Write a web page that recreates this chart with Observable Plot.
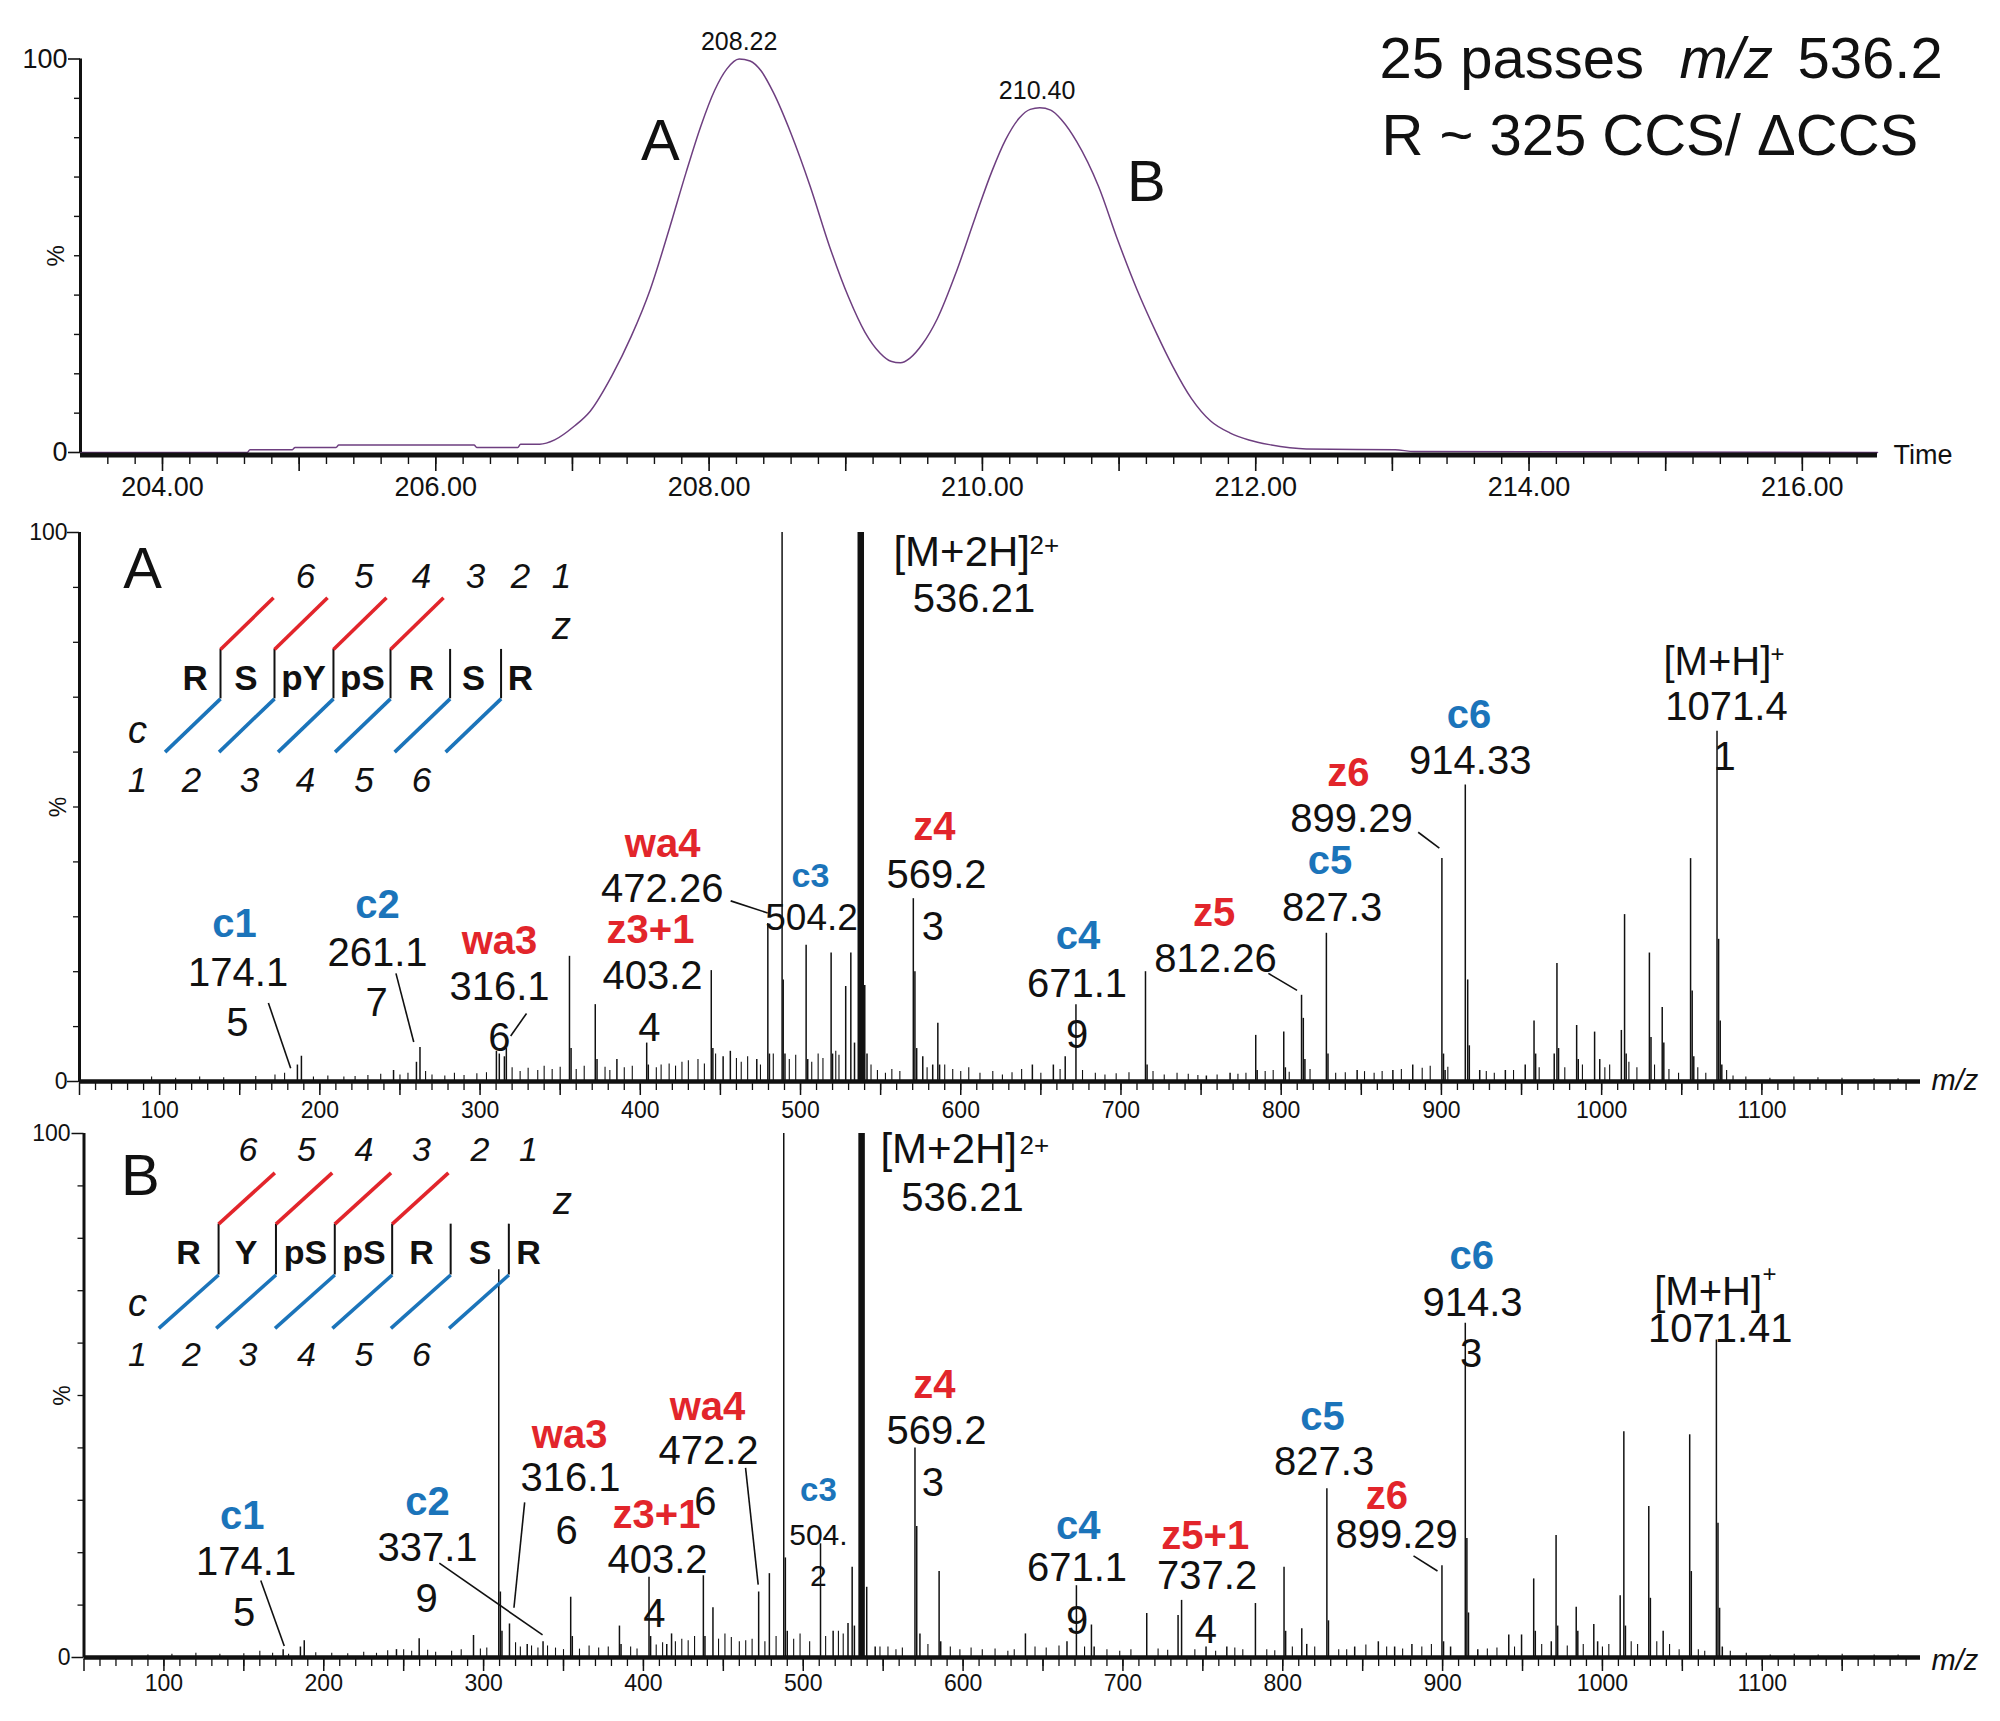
<!DOCTYPE html>
<html><head><meta charset="utf-8">
<script src="https://cdn.jsdelivr.net/npm/d3@7"></script>
<script src="https://cdn.jsdelivr.net/npm/@observablehq/plot@0.6"></script>
<style>
html,body{margin:0;padding:0;background:#fff;}
#wrap{position:relative;width:2000px;height:1721px;overflow:hidden;background:#fff;}
#wrap svg{position:absolute;left:0;overflow:visible;}
</style></head>
<body><div id="wrap"></div>
<script>
const SANS = "'Liberation Sans', Arial, Helvetica, sans-serif";
const BLUE = "#1b74ba", RED = "#e2252b", PURPLE = "#6e3f80", INK = "#111";

// ---------- mobilogram (drift time, % intensity) ----------
const driftTime = [203.4, 204.62, 204.64, 204.95, 204.97, 205.27, 205.29, 206.28, 206.30, 206.60, 206.62, 206.76, 206.87, 207.01, 207.13, 207.29, 207.43, 207.57, 207.71, 207.83, 207.94, 208.04, 208.13, 208.22, 208.30, 208.38, 208.47, 208.60, 208.74, 208.88, 209.02, 209.14, 209.25, 209.33, 209.40, 209.47, 209.56, 209.67, 209.81, 209.95, 210.07, 210.17, 210.27, 210.35, 210.42, 210.50, 210.58, 210.69, 210.85, 210.99, 211.13, 211.27, 211.39, 211.53, 211.67, 211.81, 211.95, 212.10, 212.25, 212.37, 213.02, 213.16, 216.55];
const driftPct = [0, 0, 0.7, 0.7, 1.3, 1.3, 1.9, 1.9, 1.3, 1.3, 2.1, 2.1, 3.2, 6.6, 10.5, 19.6, 29.5, 41.5, 57, 71, 83, 92, 97.5, 100, 99.5, 97, 91.5, 81, 67.6, 52.5, 39.5, 30.6, 25.3, 23.2, 22.8, 24, 27.5, 34, 46, 60, 71.5, 79.5, 85, 87.2, 87.6, 87, 84.5, 79, 67.6, 54, 41.5, 30.6, 22.1, 13.7, 8, 5, 3.2, 2, 1.2, 0.9, 0.7, 0.25, 0];
const driftApex = [[208.22, 100, "208.22"], [210.40, 87.6, "210.40"]];
const driftTicks = d3.range(204, 217, 2);

// ---------- spectrum A peaks [m/z, %] ----------
const peaksA = [[186,3],[188.5,4.6],[246,2],[260.3,3.5],[262.5,6.2],[310.2,5.5],[312,5],[315.2,4.5],[316.4,6],[355.8,22.8],[356.8,6],[371.9,14],[373,4],[385.4,4],[404,7],[405,3],[444.3,20.2],[445.3,6],[451.7,4.5],[456.2,5.5],[472.7,4],[479.6,28.8],[480.6,5],[488.5,100],[489.2,18.5],[490.3,5],[503.5,24.8],[504.5,4],[519.1,23.4],[520,5],[528.2,17.3],[531.4,23.4],[533.7,7],[537.6,100],[540.1,17.5],[541.5,5],[570.4,33.3],[571.4,20],[572.5,6],[576.3,4.5],[582.5,3],[585.7,10.6],[586.8,3],[644.7,3],[657.8,3],[665.2,4.5],[671.9,14],[715.3,20],[716.3,3],[753.3,1],[768.1,1.5],[784.1,8.4],[785,2],[801.6,9],[802.6,2.5],[812.7,15.7],[813.8,11.5],[814.8,4],[828.2,27],[829.2,5],[847.4,2],[869.7,2],[882.1,3],[900.3,40.6],[901.3,5],[902.3,2],[914.9,54],[916.4,18.5],[917.4,6.5],[923.9,2],[939.9,2],[952.3,3],[957.8,11],[958.8,5],[970.4,5],[972.1,21.5],[973.1,6],[984.4,10.2],[985.4,4],[995.6,9],[998.8,4],[1012.3,9.3],[1014.3,30.4],[1015.3,5],[1029.8,23.4],[1030.8,8],[1037.8,13.5],[1038.8,7],[1055.5,40.6],[1056.5,16.5],[1057.5,4.5],[1072,63.8],[1073,25.9],[1074,11],[1075,3]];
const noiseA = [[95,0.8],[110,0.6],[125,0.8],[140,0.7],[160,0.9],[172,1.2],[178,1.5],[196,0.8],[205,1],[215,0.8],[222,0.9],[230,1.1],[238,1.3],[250,1.2],[255,1.5],[266,1.8],[270,1.2],[278,1],[284,1.5],[290,1.1],[298,1.4],[304,1.6],[320,2.5],[325,1.8],[330,2.4],[336,2],[340,2.8],[345,2.2],[350,2.6],[360,2.2],[365,2.8],[378,2.6],[381,2],[390,2.5],[395,2.8],[410,2.5],[413,3],[418,3.2],[422,2.8],[426,3.5],[430,3.8],[436,4],[440,3.2],[447,5],[460,4.2],[463,3.5],[467,4.5],[475,3],[483,5],[493,4],[497,4.8],[507,3.5],[511,5],[514,4.2],[522,5.5],[524,4.8],[544,3],[548,2],[553,1.5],[557,2.2],[562,1.8],[579,2.5],[590,3],[595,2.2],[600,1.8],[605,2.5],[612,1.5],[620,1.8],[626,1.2],[632,1.6],[638,2.2],[650,1.5],[662,2.2],[676,2],[684,1.5],[690,1.2],[697,1.4],[705,1.6],[720,1.8],[727,1.2],[735,1.5],[742,1.3],[748,1.1],[760,1.2],[773,1.3],[778,1.5],[790,1.8],[795,2],[805,1.7],[818,2.2],[834,1.5],[840,1.6],[852,1.8],[858,1.5],[863,1.8],[875,2.2],[888,2.4],[893,2.8],[904,2.6],[928,1.8],[933,1.5],[945,2],[961,2.5],[977,2.5],[988,3],[1002,2.5],[1005,3],[1017,3.5],[1022,2.5],[1033,3],[1042,2.2],[1048,1.5],[1060,2.5],[1065,1.5],[1078,2],[1082,1],[1090,0.8],[1105,0.6],[1120,0.8],[1135,0.7],[1150,0.6],[1170,0.5],[1185,0.5]];

// ---------- spectrum B peaks [m/z, %] ----------
const peaksB = [[174.6,1.5],[185.4,2],[187.8,3.2],[245.5,1.5],[259.7,3.6],[293.7,4.2],[309.5,74],[310.5,12.5],[311.5,5],[316.2,6.4],[327.3,2.5],[337.2,3],[354.5,11.5],[355.5,4],[385,6],[386,2.5],[403.5,15.3],[404.5,4],[414.6,2.5],[417.6,4.5],[437.5,15.6],[438.5,4],[443.5,9.5],[472.1,12.5],[478.8,16],[487.8,100],[488.8,19],[490,5],[510.8,21.7],[518.7,5],[528,6.5],[530.6,17.2],[532,6],[536.5,100],[539.7,13.4],[545,2],[569.9,40],[571,25],[573,4.5],[585,16.4],[586,3],[639,4.5],[665,3],[670.9,13.7],[680.3,6.2],[682,2],[714.9,8.4],[734.5,8],[736.7,10.9],[752,2],[765,2],[782.9,10.3],[800.8,17.2],[801.8,5],[811.9,5.5],[815,2.5],[827.6,32.2],[828.6,7],[845,2],[859.8,3],[870,2],[880.8,2.5],[899.6,17.5],[900.6,3],[905,2],[914.2,63.8],[915.2,22.7],[916.2,8.5],[922,1.5],[941.4,4.3],[949.4,4.3],[957,15],[958,5],[968,3],[971,23.3],[972,6],[983.6,9.6],[984.6,5],[994.6,6.3],[997,3],[1011.1,11.8],[1013.4,43.1],[1014.4,6],[1029,28.8],[1030,11.3],[1038,5],[1054.6,42.5],[1055.6,16.4],[1071.3,60.6],[1072.3,25.6],[1073.3,9.4],[1075,2]];
const noiseB = [[90,0.5],[105,0.6],[120,0.8],[135,0.6],[150,0.7],[160,1.2],[168,0.8],[178,0.6],[195,0.9],[205,0.8],[215,0.7],[225,1],[233,0.8],[240,1.3],[250,1.5],[255,1.2],[265,1.4],[270,1],[280,1.2],[286,1.5],[298,1.6],[302,1.8],[320,2.8],[323,2],[330,2.2],[334,1.8],[340,2.2],[345,1.8],[350,1.5],[360,1.6],[366,2.2],[372,1.8],[378,2],[392,2],[396,1.6],[408,2.4],[412,2.8],[420,3],[424,3.5],[428,3.2],[432,4],[447,3.5],[451,4.5],[455,3.8],[460,3],[464,3.2],[468,3.5],[476,3],[483,4],[494,3.5],[498,4.5],[504,3],[514,4],[522,5],[525,4.5],[548,2],[553,2],[558,1.5],[562,1.8],[578,2.5],[592,2],[598,1.5],[605,1.8],[612,1.5],[620,1.6],[628,1.2],[632,1.5],[645,2],[652,1.8],[660,2.2],[676,2],[690,1.5],[698,1.2],[705,1.5],[722,1.6],[728,1.4],[745,1.5],[758,1.2],[770,1.8],[775,1.5],[790,1.5],[795,1.3],[806,2],[820,2],[835,1.5],[840,1.5],[852,2.4],[865,2],[875,1.6],[887,2],[893,2.5],[928,1.6],[934,1.8],[945,2],[962,2.5],[978,2.2],[988,2.5],[1000,2],[1004,2.5],[1018,3],[1022,2.5],[1034,3],[1042,2.5],[1048,1.5],[1060,1.5],[1064,1.2],[1080,1.2],[1090,0.8],[1105,0.5],[1120,0.6],[1135,0.5],[1150,0.6],[1170,0.5],[1185,0.5]];

// ---------- sequences ----------
const seqA = ["R","S","pY","pS","R","S","R"];
const seqB = ["R","Y","pS","pS","R","S","R"];
const zIndex = [6,5,4,3,2,1];
const cIndex = [1,2,3,4,5,6];

// ---------- axis ticks ----------
const mzTicks = d3.range(100, 1200, 100);
const mzMajor = d3.range(50, 1200, 50);
const mzMinor = d3.range(60, 1200, 10);
const pctTicks = d3.range(10, 100, 10);

// ---------- annotations [text, m/z, %, kind, size] ----------
const ionsA = [["c1",146.7,28.6,"c"],["c2",236,32.2,"c"],["wa3",312.1,25.5,"z"],["wa4",413.9,43.2,"z"],["z3+1",406.4,27.5,"z"],["c3",506.2,37.5,"c","s"],["z4",583.6,46.3,"z"],["c4",673.2,26.4,"c"],["z5",758.1,30.6,"z"],["c5",830.5,40.1,"c"],["z6",842,56.2,"z"],["c6",917.2,66.7,"c"]];
const numsA = [["174.1",149,19.7],["5",148.6,10.6],["261.1",236,23.4],["7",235.4,14.2],["316.1",312.1,17.1],["6",312.1,7.8],["472.26",413.7,35],["403.2",407.6,19.2],["4",405.7,9.8],["504.2",506.9,29.7,"s"],["536.21",608.3,87.8],["569.2",584.9,37.6],["3",582.6,28.1],["671.1",672.6,17.7],["9",672.6,8.4],["812.26",759,22.2],["827.3",831.8,31.5],["899.29",843.9,47.7],["914.33",918,58.3],["1071.4",1077.9,68.1],["1",1076.7,59]];
const leadersA = [[167.9,14.3,181.8,2.4],[247.5,19.7,258.6,7.2],[329,12.4,319.1,8.3],[456.4,32.9,479.5,30.7],[792,19.7,809.9,16.6],[885.5,45.4,898.7,42.5]];
const ionsB = [["c1",149,26.9,"c"],["c2",264.9,29.6,"c"],["wa3",353.8,42.4,"z"],["wa4",440.1,47.7,"z"],["z3+1",408.2,27.1,"z"],["c3",509.5,31.9,"c","s"],["z4",582.1,51.9,"z"],["c4",672,25,"c"],["z5+1",751.5,23.1,"z"],["c5",824.9,45.8,"c"],["z6",865.2,30.7,"z"],["c6",918.3,76.6,"c"]];
const numsB = [["174.1",151.4,18.1],["5",150.2,8.4],["337.1",264.9,20.9],["9",264.3,11.1],["316.1",354.4,34.2],["6",351.9,24.1],["472.2",440.7,39.4],["6",438.7,29.6],["403.2",408.8,18.5],["4",406.8,8.2],["504.",509.5,23.3,"s"],["2",509.5,15.5,"s"],["536.21",599.6,87.6],["569.2",583.4,43.2],["3",581.1,33.2],["671.1",671.3,17],["9",671.3,6.9],["737.2",752.7,15.6],["4",751.9,5.2],["827.3",825.9,37.2],["899.29",871.2,23.3],["914.3",918.7,67.7],["3",917.9,57.9],["1071.41",1073.7,62.7]];
const leadersB = [[160.6,14.7,175.3,2.2],[272.3,18,336.9,4.3],[325.7,29.6,319,9.5],[463.9,36.2,471.8,13.9],[881.8,19.4,896.8,16.5]];

// ---------- layout of annotation blocks (data units) ----------
const diagA = {letter:["A",89.3,93.3], residueX:[122.1,153.9,189.8,226.6,263.4,295.9,325.2], residueY:73.4,
  dividerX:[138,171.7,208.5,244.1,281.3,313.1], divY:[69.7,78.7], redDx:33.1, redTopY:88.1, blueDx:-34.6, blueBotY:60,
  zNumX:[191,227.6,263.4,297.2,325.2,350.8], zNumY:92, cNumX:[86.2,119.9,156.1,191,227.6,263.4], cNumY:54.8,
  zLab:[350.8,82.8], cLab:[86.2,63.9], resSize:35, numSize:35};
const diagB = {letter:["B",85.3,91.9], residueX:[115.4,151.4,188.6,225.2,261.2,297.8,328.1], residueY:77.2,
  dividerX:[134.2,170.1,206.9,242.8,279.4,315.8], divY:[73,82.7], redDx:35.2, redTopY:92.5, blueDx:-37.4, blueBotY:62.8,
  zNumX:[152.5,189.2,225.2,261.2,297.8,328.1], zNumY:96.9, cNumX:[83.5,117.3,152.5,189.2,225.2,261.2], cNumY:57.7,
  zLab:[349.4,87], cLab:[83.5,67.4], resSize:34, numSize:34};
const precA = {m2h:[558,96.4], m2hSup:[642.9,97.6], mh:[1038.6,76.3], mhSup:[1105.4,77.8]};
const precB = {m2h:[548.3,96.9], m2hSup:[635.3,97.6], mh:[1032.4,69.7], mhSup:[1100.2,73.1]};

const txt = (data, o) => Plot.text(data, {fontFamily: SANS, fill: INK, ...o});
const wrap = document.getElementById("wrap");
function place(svg, top) { svg.style.position = "absolute"; svg.style.top = top + "px"; svg.style.left = "0px"; wrap.appendChild(svg); }
const baseStyle = {background: "transparent", overflow: "visible", fontFamily: SANS, color: INK};

// ================= TOP: mobilogram =================
const drift = driftTime.map((t, i) => ({t, v: driftPct[i]}));
const topPlot = Plot.plot({
  width: 2000, height: 510, marginLeft: 80, marginRight: 123, marginTop: 58.5, marginBottom: 58,
  x: {domain: [203.4, 216.55], axis: null}, y: {domain: [0, 100], axis: null},
  style: baseStyle,
  marks: [
    Plot.line(drift, {x: "t", y: "v", stroke: PURPLE, strokeWidth: 1.5, curve: "monotone-x"}),
    Plot.ruleY([0], {stroke: INK, strokeWidth: 5, dy: 2.5}),
    Plot.ruleX([203.4], {stroke: INK, strokeWidth: 3}),
    Plot.axisX(d3.range(1018, 1083).map(i => i / 5), {tickSize: 8, tickFormat: () => "", label: null, strokeWidth: 1.4, tickPadding: 0, dy: 4}),
    Plot.axisX(d3.range(204, 217), {tickSize: 15, tickFormat: () => "", label: null, strokeWidth: 1.6, tickPadding: 0, dy: 4}),
    Plot.axisY(pctTicks, {tickSize: 6, tickFormat: () => "", label: null, strokeWidth: 1.4}),
    Plot.axisY([0, 100], {tickSize: 12, tickFormat: () => "", label: null, strokeWidth: 1.6}),
    txt(driftTicks, {x: d => d, y: 0, dy: 35, text: d => d.toFixed(2), fontSize: 27}),
    txt([0, 100], {x: 203.4, y: d => d, dx: -13, textAnchor: "end", text: d => String(d), fontSize: 27}),
    txt(["%"], {x: 203.4, y: 50, dx: -24, rotate: -90, text: d => d, fontSize: 24}),
    txt(["Time"], {x: 216.55, y: 0, dx: 16, dy: 3, textAnchor: "start", text: d => d, fontSize: 27}),
    txt(driftApex, {x: d => d[0], y: d => d[1], dy: -17, text: d => d[2], fontSize: 25}),
    txt([["A", 207.644, 79], ["B", 211.2, 68.7]], {x: d => d[1], y: d => d[2], text: d => d[0], fontSize: 58}),
    txt(["25 passes"], {x: 212.906, y: 99.8, textAnchor: "start", text: d => d, fontSize: 58}),
    txt(["m/z"], {x: 215.101, y: 99.8, textAnchor: "start", text: d => d, fontSize: 58, fontStyle: "italic"}),
    txt(["536.2"], {x: 215.965, y: 99.8, textAnchor: "start", text: d => d, fontSize: 58}),
    txt(["R ~ 325 CCS/ \u0394CCS"], {x: 212.92, y: 80.2, textAnchor: "start", text: d => d, fontSize: 58})
  ]
});
place(topPlot, 0);

// ================= spectra =================
function spectrum(cfg) {
  const X0 = 50, X1 = 1199;
  const isPrec = d => Math.abs(d[0] - 537) < 2 && d[1] >= 99;
  const D = cfg.diag;
  const P = cfg.prec;
  const ionBig = cfg.ions.filter(d => d[4] !== "s");
  const ionSmall = cfg.ions.filter(d => d[4] === "s");
  const numBig = cfg.nums.filter(d => d[3] !== "s");
  const numSmall = cfg.nums.filter(d => d[3] === "s");
  const colorOf = k => k === "c" ? BLUE : RED;
  const marks = [
    Plot.ruleX(cfg.noise, {x: d => d[0], y1: 0, y2: d => d[1], stroke: INK, strokeWidth: 1.1}),
    Plot.ruleX(cfg.peaks.filter(d => !isPrec(d)), {x: d => d[0], y1: 0, y2: d => d[1], stroke: INK, strokeWidth: 1.5}),
    Plot.ruleX(cfg.peaks.filter(isPrec), {x: d => d[0], y1: 0, y2: d => d[1], stroke: INK, strokeWidth: 6.5}),
    Plot.ruleY([0], {stroke: INK, strokeWidth: 4.5}),
    Plot.ruleX([X0], {stroke: INK, strokeWidth: 3}),
    Plot.axisX(mzMinor, {tickSize: 7, tickFormat: () => "", label: null, strokeWidth: 1.3, tickPadding: 0, dy: 2}),
    Plot.axisX(mzMajor, {tickSize: 12, tickFormat: () => "", label: null, strokeWidth: 1.5, tickPadding: 0, dy: 2}),
    Plot.axisY(pctTicks, {tickSize: 6, tickFormat: () => "", label: null, strokeWidth: 1.3}),
    Plot.axisY([0, 100], {tickSize: 12, tickFormat: () => "", label: null, strokeWidth: 1.5}),
    txt(mzTicks, {x: d => d, y: 0, dy: cfg.tickDy, text: d => String(d), fontSize: 23}),
    txt([0, 100], {x: X0, y: d => d, dx: cfg.yLabDx, textAnchor: "end", text: d => String(d), fontSize: 23}),
    txt(["%"], {x: X0, y: 50, dx: -21, rotate: -90, text: d => d, fontSize: 23}),
    txt(["m/z"], {x: X1, y: 0, dx: 11, dy: cfg.mzDy, textAnchor: "start", text: d => d, fontSize: 29, fontStyle: "italic"}),
    // sequence diagram
    Plot.ruleX(D.dividerX, {x: d => d, y1: D.divY[0], y2: D.divY[1], stroke: INK, strokeWidth: 2}),
    Plot.link(D.dividerX.slice(0, 4), {x1: d => d, y1: D.divY[1], x2: d => d + D.redDx, y2: D.redTopY, stroke: RED, strokeWidth: 3.6}),
    Plot.link(D.dividerX, {x1: d => d, y1: D.divY[0], x2: d => d + D.blueDx, y2: D.blueBotY, stroke: BLUE, strokeWidth: 3.6}),
    txt(cfg.seq, {x: (d, i) => D.residueX[i], y: D.residueY, text: d => d, fontWeight: "bold", fontSize: D.resSize}),
    txt(zIndex, {x: (d, i) => D.zNumX[i], y: D.zNumY, text: d => String(d), fontStyle: "italic", fontSize: D.numSize}),
    txt(cIndex, {x: (d, i) => D.cNumX[i], y: D.cNumY, text: d => String(d), fontStyle: "italic", fontSize: D.numSize}),
    txt(["z"], {x: D.zLab[0], y: D.zLab[1], text: d => d, fontStyle: "italic", fontSize: 38}),
    txt(["c"], {x: D.cLab[0], y: D.cLab[1], text: d => d, fontStyle: "italic", fontSize: 38}),
    txt([D.letter], {x: d => d[1], y: d => d[2], text: d => d[0], fontSize: 58}),
    // precursor labels
    txt(["[M+2H]"], {x: P.m2h[0], y: P.m2h[1], textAnchor: "start", text: d => d, fontSize: 42}),
    txt(["2+"], {x: P.m2hSup[0], y: P.m2hSup[1], textAnchor: "start", text: d => d, fontSize: 26}),
    txt(["[M+H]"], {x: P.mh[0], y: P.mh[1], textAnchor: "start", text: d => d, fontSize: 40}),
    txt(["+"], {x: P.mhSup[0], y: P.mhSup[1], textAnchor: "start", text: d => d, fontSize: 24}),
    // leaders and fragment labels
    Plot.link(cfg.leaders, {x1: d => d[0], y1: d => d[1], x2: d => d[2], y2: d => d[3], stroke: INK, strokeWidth: 1.6}),
    txt(numBig, {x: d => d[1], y: d => d[2], text: d => d[0], fontSize: 40}),
    txt(numSmall, {x: d => d[1], y: d => d[2], text: d => d[0], fontSize: cfg.smallNum}),
    txt(ionBig.filter(d => d[3] === "c"), {x: d => d[1], y: d => d[2], text: d => d[0], fill: BLUE, fontWeight: "bold", fontSize: 40}),
    txt(ionBig.filter(d => d[3] !== "c"), {x: d => d[1], y: d => d[2], text: d => d[0], fill: RED, fontWeight: "bold", fontSize: 40}),
    txt(ionSmall, {x: d => d[1], y: d => d[2], text: d => d[0], fill: d => colorOf(d[3]), fontWeight: "bold", fontSize: cfg.smallIon})
  ];
  return Plot.plot({
    width: 2000, height: cfg.height, marginLeft: cfg.marginLeft, marginRight: 80,
    marginTop: cfg.marginTop, marginBottom: cfg.marginBottom,
    x: {domain: [X0, X1], axis: null}, y: {domain: [0, 100], axis: null},
    color: {type: "identity"},
    style: baseStyle, marks
  });
}

const specA = spectrum({peaks: peaksA, noise: noiseA, seq: seqA, ions: ionsA, nums: numsA, leaders: leadersA, diag: diagA, prec: precA,
  height: 620, marginLeft: 79, marginTop: 32, marginBottom: 39, tickDy: 29, yLabDx: -12, mzDy: -1, smallIon: 34, smallNum: 37});
place(specA, 500);
const specB = spectrum({peaks: peaksB, noise: noiseB, seq: seqB, ions: ionsB, nums: numsB, leaders: leadersB, diag: diagB, prec: precB,
  height: 601, marginLeft: 83.5, marginTop: 13, marginBottom: 64, tickDy: 26, yLabDx: -13.5, mzDy: 3, smallIon: 33, smallNum: 30});
place(specB, 1120);
</script>
</body></html>
